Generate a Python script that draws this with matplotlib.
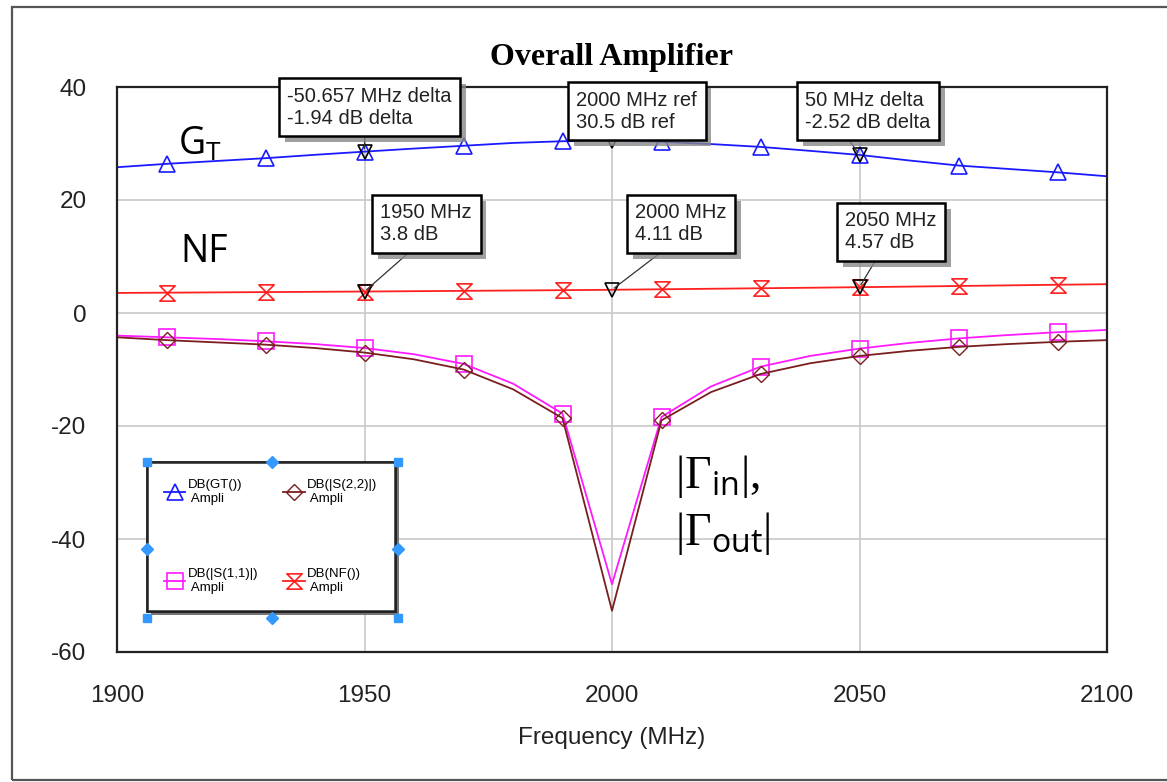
import numpy as np
import matplotlib.pyplot as plt
import matplotlib.patheffects as pe
from matplotlib.path import Path
from matplotlib.lines import Line2D
from matplotlib.patches import Rectangle

plt.rcParams['font.family'] = ['Liberation Sans', 'DejaVu Sans']
plt.rcParams['axes.unicode_minus'] = False
plt.rcParams['mathtext.fontset'] = 'custom'
plt.rcParams['mathtext.rm'] = 'Liberation Serif'
plt.rcParams['mathtext.sf'] = 'Open Sans'

# frequency grid (MHz), values in dB
freq = [1900, 1910, 1920, 1930, 1940, 1950, 1960, 1970, 1980, 1990, 2000,
        2010, 2020, 2030, 2040, 2050, 2060, 2070, 2080, 2090, 2100]
gt = [25.8, 26.4, 26.9, 27.4, 28.0, 28.56, 29.1, 29.6, 30.1, 30.4, 30.5,
      30.3, 29.9, 29.4, 28.7, 27.98, 27.0, 26.1, 25.5, 24.9, 24.2]
nf = [3.55, 3.6, 3.65, 3.7, 3.75, 3.8, 3.86, 3.92, 3.98, 4.04, 4.11,
      4.2, 4.29, 4.38, 4.47, 4.57, 4.67, 4.78, 4.89, 5.0, 5.1]
s11 = [-4.0, -4.3, -4.6, -5.0, -5.5, -6.2, -7.3, -9.0, -12.5, -17.8, -48.0,
       -18.4, -13.0, -9.5, -7.6, -6.3, -5.3, -4.5, -3.9, -3.4, -3.0]
s22 = [-4.3, -4.8, -5.2, -5.6, -6.2, -7.0, -8.2, -10.0, -13.5, -18.6, -52.7,
       -19.0, -14.0, -10.8, -8.9, -7.6, -6.7, -6.0, -5.5, -5.1, -4.8]

xticks = [1900, 1950, 2000, 2050, 2100]
yticks = [-60, -40, -20, 0, 20, 40]

# marker readouts
mk_freq = [1950, 2000, 2050, 1950, 2000, 2050]
mk_val = [28.56, 30.5, 27.98, 3.8, 4.11, 4.57]
mk_text = ["-50.657 MHz delta\n-1.94 dB delta", "2000 MHz ref\n30.5 dB ref",
           "50 MHz delta\n-2.52 dB delta", "1950 MHz\n3.8 dB",
           "2000 MHz\n4.11 dB", "2050 MHz\n4.57 dB"]
box_px = [(279, 107), (568, 111), (797, 111), (372, 224), (627, 224), (837, 232)]
lead_rel = [0.47, 0.32, 0.3, 0.41, 0.39, 0.38]

W, H = 1167, 782
fig = plt.figure(figsize=(W / 100, H / 100), dpi=100)
ax = fig.add_axes([117 / W, 1 - 652 / H, (1107 - 117) / W, (652 - 87) / H])

# hourglass marker for NF
hourglass = Path([(-1, 1), (1, 1), (-1, -1), (1, -1), (-1, 1)],
                 [Path.MOVETO, Path.LINETO, Path.LINETO, Path.LINETO, Path.CLOSEPOLY])

every = slice(1, None, 2)
ax.plot(freq, gt, color='#1a1aff', lw=1.3, marker='^', ms=11, mfc='none',
        mec='#1a1aff', mew=1.2, markevery=every, label='DB(GT())\n Ampli')
ax.plot(freq, s11, color='#ff1aff', lw=1.3, marker='s', ms=11, mfc='none',
        mec='#ff1aff', mew=1.2, markevery=every, label='DB(|S(1,1)|)\n Ampli')
ax.plot(freq, s22, color='#7a1f1f', lw=1.3, marker='D', ms=8, mfc='none',
        mec='#7a1f1f', mew=1.0, markevery=every, label='DB(|S(2,2)|)\n Ampli')
ax.plot(freq, nf, color='#ff2020', lw=1.3, marker=hourglass, ms=11, mfc='none',
        mec='#ff2020', mew=1.2, markevery=every, label='DB(NF())\n Ampli')

ax.set_xlim(1900, 2100)
ax.set_ylim(-60, 40)
ax.set_xticks(xticks)
ax.set_yticks(yticks)
ax.tick_params(length=0, labelsize=17.5, colors='#222222')
ax.tick_params(axis='x', pad=24)
ax.tick_params(axis='y', pad=22)
ax.grid(True, color='#c8c8c8', lw=1.2)
ax.set_axisbelow(True)
for s in ax.spines.values():
    s.set_linewidth(1.6)
    s.set_color('#222222')
ax.set_xlabel('Frequency (MHz)', fontsize=17.5, color='#222222', labelpad=14)

fig.text(612 / W, 1 - 58 / H, 'Overall Amplifier', fontsize=23, fontweight='bold',
         family='Liberation Serif', ha='center', va='center')

# marker readout boxes with leaders
pad = 0.42
fs = 14.5
for f, v, t, (bx, by), rel in zip(mk_freq, mk_val, mk_text, box_px, lead_rel):
    ax.plot(f, v, marker='v', ms=10, mfc='none', mec='black', mew=1.2, zorder=5)
    a = ax.annotate(t, xy=(f, v), xytext=(bx + pad * fs * 100 / 72, H - by),
                    textcoords='figure pixels',
                    ha='left', va='center', fontsize=fs, color='#222222', linespacing=1.2,
                    bbox=dict(boxstyle='square,pad=%.2f' % pad, fc='white', ec='black', lw=1.8),
                    arrowprops=dict(arrowstyle='-', color='#333333', lw=0.9,
                                    relpos=(rel, 0), shrinkA=0, shrinkB=2),
                    zorder=6)
    a.get_bbox_patch().set_path_effects([pe.withSimplePatchShadow(
        offset=(4, -4), shadow_rgbFace='#888888', alpha=0.8)])

# legend
leg = ax.legend(loc='upper left', bbox_to_anchor=(147 / W, 1 - 462 / H),
                bbox_transform=fig.transFigure, ncol=2, fontsize=9.5, handlelength=1.6,
                handletextpad=0.2, columnspacing=1.9, labelspacing=4.8,
                borderpad=1.3, borderaxespad=0, frameon=True, fancybox=False,
                shadow=False, framealpha=1)
leg.get_frame().set_edgecolor('#222222')
leg.get_frame().set_linewidth(1.8)
leg.get_frame().set_path_effects([pe.withSimplePatchShadow(
    offset=(3, -3), shadow_rgbFace='#666666', alpha=0.9), pe.Normal()])

# selection handles around legend
hx = [147, 398, 147, 398]
hy = [462, 462, 618, 618]
fig.add_artist(Line2D([x / W for x in hx], [1 - y / H for y in hy], ls='none',
                      marker='s', ms=6, color='#3399ff', transform=fig.transFigure))
dx = [272, 272, 147, 398]
dy = [462, 618, 549, 549]
fig.add_artist(Line2D([x / W for x in dx], [1 - y / H for y in dy], ls='none',
                      marker='D', ms=6, color='#3399ff', transform=fig.transFigure))

# curve labels
fig.text(178 / W, 1 - 155 / H, r'G$_{\mathsf{T}}$', fontsize=27, family='Open Sans',
         va='baseline')
fig.text(180 / W, 1 - 262 / H, 'NF', fontsize=27, family='Open Sans', va='baseline')
fig.text(675 / W, 1 - 488 / H, r'$|\Gamma_{\mathsf{in}}|,$', fontsize=33, va='baseline')
fig.text(675 / W, 1 - 545 / H, r'$|\Gamma_{\mathsf{out}}|$', fontsize=33, va='baseline')

# outer frame
fig.add_artist(Rectangle((12 / W, 1 - 780 / H), 1.2, (780 - 7) / H, fill=False,
                         ec='#555555', lw=1.6, transform=fig.transFigure))

fig.savefig('out.png', dpi=100)
